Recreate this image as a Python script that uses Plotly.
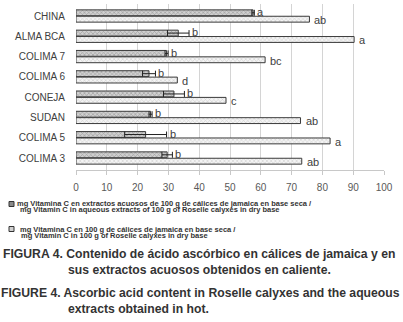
import plotly.graph_objects as go

categories = ["CHINA", "ALMA BCA", "COLIMA 7", "COLIMA 6", "CONEJA", "SUDAN", "COLIMA 5", "COLIMA 3"]
extract_vals = [57.5, 33.2, 29.4, 23.7, 31.8, 24.2, 22.6, 29.6]
extract_err = [0.4, 3.5, 0.5, 2.1, 3.4, 0.5, 6.8, 1.7]
extract_letters = ["a", "b", "b", "b", "b", "b", "b", "b"]
calyx_vals = [75.8, 90.3, 61.4, 32.9, 48.7, 72.9, 82.5, 73.3]
calyx_letters = ["ab", "a", "bc", "d", "c", "ab", "a", "ab"]
x_ticks = [0, 10, 20, 30, 40, 50, 60, 70, 80, 90, 100]

legend_extract = ["mg Vitamina C en extractos acuosos de 100 g de cálices de jamaica en base seca /",
                  "mg Vitamin C in aqueous extracts of 100 g of Roselle calyxes in dry base"]
legend_calyx = ["mg Vitamina C en 100 g de cálices de jamaica en base seca /",
                "mg Vitamin C in 100 g of Roselle calyxes in dry base"]
caption_lines = ["FIGURA 4. Contenido de ácido ascórbico en cálices de jamaica y en",
                 "sus extractos acuosos obtenidos en caliente.",
                 "FIGURE 4. Ascorbic acid content in Roselle calyxes and the aqueous",
                 "extracts obtained in hot."]

W, H = 403, 322
L, R, T, B = 76, 19, 4, 152
PW, PH = W - L - R, H - T - B

def px(x):
    return (x - L) / PW
def py(y):
    return (H - B - y) / PH

fig = go.Figure()
fig.add_trace(go.Bar(
    y=categories, x=extract_vals, orientation="h", name="extract",
    marker=dict(color="#b0b0b0", line=dict(color="#3a3a3a", width=1),
                pattern=dict(shape="x", fgcolor="#707070", bgcolor="#d0d0d0", size=3, solidity=0.4)),
    error_x=dict(type="data", array=extract_err, symmetric=True, color="#222222", thickness=1, width=3),
))
fig.add_trace(go.Bar(
    y=categories, x=calyx_vals, orientation="h", name="calyx",
    marker=dict(color="#e0e0e0", line=dict(color="#3a3a3a", width=1),
                pattern=dict(shape="x", fgcolor="#a8a8a8", bgcolor="#f4f4f4", size=3, solidity=0.35)),
))

ann = []
for c, v, e, t in zip(categories, extract_vals, extract_err, extract_letters):
    ann.append(dict(x=v + e, y=c, xref="x", yref="y", text=t, showarrow=False, xanchor="left",
                    xshift=1, yshift=4, font=dict(family="Liberation Sans, Arial", size=11, color="#404040")))
for c, v, t in zip(categories, calyx_vals, calyx_letters):
    ann.append(dict(x=v, y=c, xref="x", yref="y", text=t, showarrow=False, xanchor="left",
                    xshift=3, yshift=-4, font=dict(family="Liberation Sans, Arial", size=11, color="#404040")))

lf = dict(family="Liberation Sans, Arial", size=7.5, color="#333333")
leg_pos = [(16, 203.5, legend_extract[0]), (19, 210, legend_extract[1]),
           (18.5, 229, legend_calyx[0]), (20, 235.5, legend_calyx[1])]
for x, y, t in leg_pos:
    ann.append(dict(x=px(x), y=py(y), xref="paper", yref="paper", text="<b>" + t + "</b>", showarrow=False,
                    xanchor="left", yanchor="middle", font=lf, borderpad=0))

cf = dict(family="Liberation Sans, Arial", size=12.2, color="#333333")
cap_pos = [(1, 254), (66, 270), (-1, 293), (66, 309)]
for (x, y), t in zip(cap_pos, caption_lines):
    ann.append(dict(x=px(x), y=py(y), xref="paper", yref="paper", text="<b>" + t + "</b>", showarrow=False,
                    xanchor="left", yanchor="middle", font=cf))

shapes = [
    dict(type="rect", xref="paper", yref="paper", x0=px(9), x1=px(14), y0=py(206.5), y1=py(201.5),
         fillcolor="#8a8a8a", line=dict(color="#333333", width=1)),
    dict(type="rect", xref="paper", yref="paper", x0=px(9), x1=px(14), y0=py(231.5), y1=py(226.5),
         fillcolor="#d0d0d0", line=dict(color="#333333", width=1)),
]

fig.update_layout(
    width=W, height=H,
    margin=dict(l=L, r=R, t=T, b=B, pad=0),
    paper_bgcolor="white", plot_bgcolor="white",
    barmode="group", bargap=0.37, bargroupgap=0.08,
    showlegend=False,
    annotations=ann, shapes=shapes,
    xaxis=dict(range=[0, 100], tickvals=x_ticks, showgrid=True, gridcolor="#d4d4d4", gridwidth=1,
               showline=True, linecolor="#c8c8c8", ticks="outside", ticklen=4, tickcolor="#c8c8c8",
               zeroline=False, tickfont=dict(family="Liberation Sans, Arial", size=10, color="#595959"),
               ticklabelstandoff=4),
    yaxis=dict(autorange="reversed", showgrid=False, showline=False, ticks="",
               tickfont=dict(family="Liberation Sans, Arial", size=10, color="#404040"),
               ticklabelstandoff=10),
)
fig.write_html("out.html", config={"displayModeBar": False},
               post_script="document.body.style.margin='0';document.body.style.overflow='hidden';")
